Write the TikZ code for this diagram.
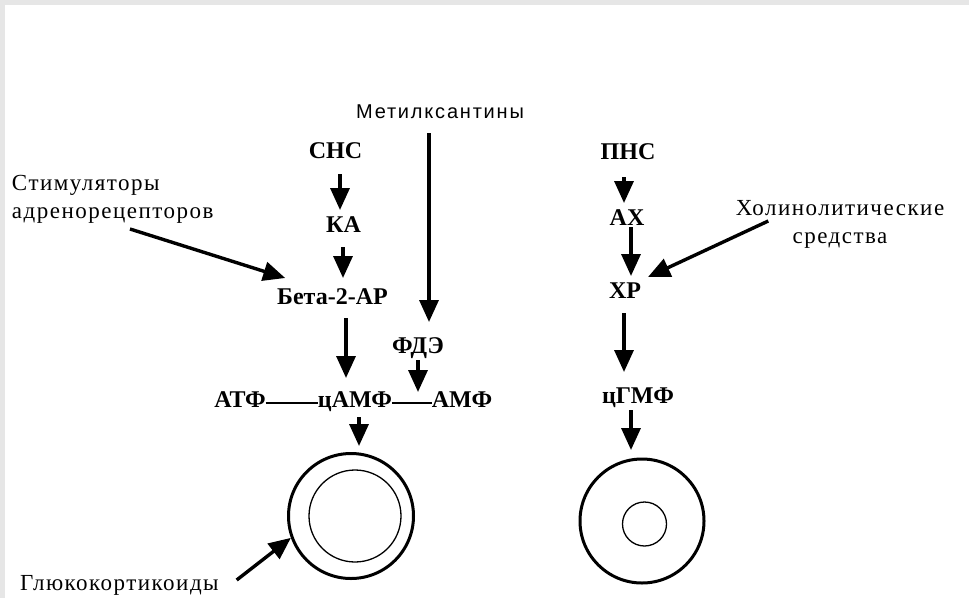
\documentclass[tikz,border=0pt]{standalone}
\usepackage{fontspec}
\setmainfont{Liberation Serif}
\newfontfamily\metfont[LetterSpace=9]{Liberation Sans}
\newcommand\sidefnt{\rmfamily\mdseries\addfontfeatures{LetterSpace=6.5}}
\usetikzlibrary{arrows.meta,calc}
\definecolor{framegray}{RGB}{230,230,230}
\begin{document}
\begin{tikzpicture}[x=1pt,y=-1pt,
  lbl/.style={inner sep=0pt,outer sep=0pt,font=\fontsize{24}{24}\selectfont\bfseries,text height=16pt,text depth=0pt},
  side/.style={inner sep=0pt,outer sep=0pt,font=\fontsize{23}{28}\selectfont\sidefnt,align=left},
  metstyle/.style={inner sep=0pt,outer sep=0pt,font=\fontsize{20}{20}\selectfont\metfont,text height=14pt,text depth=0pt},
  arr/.style={line width=3.4pt,-{Triangle[width=19pt,length=22pt]}},
  link/.style={line width=1.3pt},
  cell/.style={circle,draw,line width=3pt,inner sep=0pt,minimum size=#1},
  core/.style={circle,draw,line width=1.3pt,inner sep=0pt,minimum size=#1}]
\useasboundingbox (0,0) rectangle (969,598);
\fill[framegray] (0,0) rectangle (969,5);
\fill[framegray] (0,0) rectangle (5,598);

% left column
\node[metstyle,anchor=base] (met) at (440,118) {Метилксантины};
\node[lbl] (SNS) at (335.5,150) {СНС};
\node[lbl] (KA) at (343.5,224) {КА};
\node[lbl] (Beta) at (332.5,296) {Бета-2-АР};
\node[lbl] (FDE) at (418,345) {ФДЭ};
\node[lbl] (ATF) at (240,399) {АТФ};
\node[lbl] (cAMF) at (355,399) {цАМФ};
\node[lbl] (AMF) at (462,399) {АМФ};
\node[cell=125pt] (C1) at (351,516) {};
\node[core=92pt] (C1in) at (355,516) {};

\node[side,anchor=north west] (stim) at (12,175) {Стимуляторы\\адренорецепторов};
\node[side,anchor=base west] (glu) at (20,590) {Глюкокортикоиды};

% right column
\node[lbl] (PNS) at (628,151) {ПНС};
\node[lbl] (AX) at (627,217) {АХ};
\node[lbl] (XR) at (625,290) {ХР};
\node[lbl] (cGMF) at (638,395) {цГМФ};
\node[cell=124pt] (C2) at (642,521) {};
\node[core=44pt] (C2in) at (644.5,524) {};
\node[side,align=center,anchor=north] (hol) at (840,200) {Холинолитические\\средства};

% connectors, left
\draw[arr] ($(SNS.south)+(4.5,16)$) -- ($(KA.north)+(-3.5,-6)$);
\draw[arr] ($(KA.south)+(-0.5,15)$) -- ($(Beta.north)+(10.5,-10)$);
\draw[arr] ($(Beta.south)+(13.5,14)$) -- ($(cAMF.north)+(-9,-13)$);
\draw[arr] ($(met.south)+(-11,15)$) -- ($(FDE.north)+(11,-15)$);
\coordinate (fdeTip) at ($(FDE.south)+(0,39)$);
\draw[arr] ($(FDE.south)+(0,7)$) -- (fdeTip);
\draw[link] ([yshift=-4pt]ATF.east) -- ([yshift=-4pt]cAMF.west);
\draw[link] ([yshift=-4pt]cAMF.east) -- ([yshift=-4pt]AMF.west);
\draw[arr] ($(cAMF.south)+(4,10)$) -- ($(C1.north)+(8,-6)$);
\draw[arr] ($(stim.north west)+(118,54)$) -- ($(Beta.north west)+(8,-10)$);
\draw[arr] ($(glu.base east)+(18,-10)$) -- (C1.200);

% connectors, right
\draw[arr] ($(PNS.south)+(-4,18)$) -- ($(AX.north)+(-3,-6)$);
\draw[arr] ($(AX.south)+(4,2)$) -- ($(XR.north)+(6,-6)$);
\draw[arr] ($(XR.south)+(-1,15)$) -- ($(cGMF.north)+(-14,-15)$);
\draw[arr] ($(cGMF.south)+(-7,7)$) -- ($(C2.north)+(-11,-7.5)$);
\draw[arr] ($(hol.north west)+(32.5,21)$) -- ($(XR.east)+(7,-13)$);
\end{tikzpicture}
\end{document}
